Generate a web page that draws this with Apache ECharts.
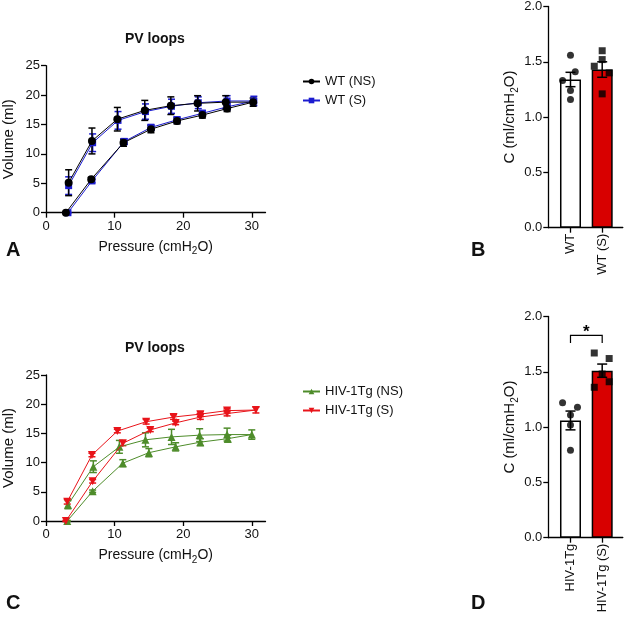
<!DOCTYPE html>
<html><head><meta charset="utf-8">
<script src="https://cdn.jsdelivr.net/npm/echarts@6/dist/echarts.min.js"></script>
<style>html,body{margin:0;padding:0;background:#fff}#c{width:624px;height:621px}</style>
</head><body><div id="c"></div>
<script>
// ---------- Panel A: PV loops, WT ----------
const pressWT_NS = [2.9, 6.6, 11.3, 15.3, 19.1, 22.8, 26.4, 30.2, 26.2, 22.1, 18.2, 14.4, 10.4, 6.7, 3.3];
const volWT_NS   = [0, 5.7, 11.9, 14.2, 15.6, 16.6, 17.7, 18.8, 18.8, 18.6, 18.2, 17.4, 15.9, 12.2, 5.1];
const errWT_NS   = [0, 0.3, 0.6, 0.6, 0.5, 0.5, 0.5, 0.7, 1.1, 1.3, 1.5, 1.7, 2.0, 2.2, 2.2];
const pressWT_S  = [3.2, 6.7, 11.4, 15.3, 19.1, 22.8, 26.4, 30.3, 26.4, 22.2, 18.3, 14.5, 10.5, 6.8, 3.3];
const volWT_S    = [0, 5.4, 12.1, 14.5, 15.8, 16.9, 18.0, 19.0, 19.0, 18.7, 18.1, 17.2, 15.7, 11.9, 4.6];
const errWT_S    = [0, 0.3, 0.5, 0.5, 0.5, 0.5, 0.5, 0.8, 0.9, 1.0, 1.2, 1.3, 1.5, 1.5, 1.5];
// ---------- Panel C: PV loops, HIV-1Tg ----------
const pressTg_NS = [3.1, 6.8, 11.2, 15.0, 18.9, 22.5, 26.5, 30.0, 26.4, 22.4, 18.3, 14.5, 10.7, 6.9, 3.2];
const volTg_NS   = [0, 5.1, 9.9, 11.7, 12.7, 13.5, 14.1, 14.8, 14.8, 14.7, 14.4, 13.9, 12.7, 9.3, 2.8];
const errTg_NS   = [0.1, 0.2, 0.6, 0.7, 0.7, 0.6, 0.6, 0.8, 1.1, 1.1, 1.3, 1.2, 1.1, 1.0, 0.7];
const pressTg_S  = [2.9, 6.8, 11.2, 15.2, 18.9, 22.5, 26.4, 30.6, 26.4, 22.5, 18.6, 14.6, 10.4, 6.7, 3.1];
const volTg_S    = [0, 6.8, 13.3, 15.6, 16.8, 17.8, 18.4, 19.0, 18.9, 18.3, 17.8, 17.0, 15.4, 11.3, 3.3];
const errTg_S    = [0.1, 0.3, 0.4, 0.3, 0.3, 0.4, 0.4, 0.5, 0.4, 0.4, 0.4, 0.4, 0.3, 0.3, 0.4];
const pvXTicks = [0, 10, 20, 30];
const pvYTicks = [0, 5, 10, 15, 20, 25];
// ---------- Panel B: compliance WT ----------
const catsB = ['WT', 'WT (S)'];
const meanB = [1.34, 1.43];
const semB  = [0.065, 0.07];
const ptsB_WT  = [1.56, 1.41, 1.33, 1.24, 1.16];
const jitB_WT  = [0, 0.15, -0.25, 0, 0];
const ptsB_S   = [1.60, 1.52, 1.46, 1.40, 1.21];
const jitB_S   = [0, 0, -0.25, 0.22, 0];
// ---------- Panel D: compliance HIV-1Tg ----------
const catsD = ['HIV-1Tg', 'HIV-1Tg (S)'];
const meanD = [1.06, 1.51];
const semD  = [0.085, 0.06];
const ptsD_Tg  = [1.22, 1.18, 1.11, 1.02, 0.79];
const jitD_Tg  = [-0.25, 0.22, 0, 0, 0];
const ptsD_S   = [1.67, 1.62, 1.48, 1.41, 1.36];
const jitD_S   = [-0.25, 0.22, 0, 0.22, -0.25];
const sigD = { from: 0, to: 1, y: 1.83, drop: 0.07, label: '*' };
const barYTicks = [0, 0.5, 1.0, 1.5, 2.0];

const FONT = 'Liberation Sans, Arial, sans-serif';
const BLACK = '#000000', BLUE = '#1c1cd0', RED = '#e8141a', GREEN = '#4e8c2a', BARRED = '#d80000';

const chart = echarts.init(document.getElementById('c'), null, { renderer: 'canvas' });

function zip(xs, ys) { return xs.map((x, i) => [x, ys[i]]); }
function errData(xs, ys, es) { return xs.map((x, i) => [x, ys[i] - es[i], ys[i] + es[i]]); }

function errSeries(name, idx, data, color, cap, lw) {
  return {
    type: 'custom', name: name, xAxisIndex: idx, yAxisIndex: idx, silent: true,
    encode: { x: 0, y: [1, 2] }, data: data, z: 3,
    renderItem: function (params, api) {
      const x = api.value(0), lo = api.value(1), hi = api.value(2);
      const a = api.coord([x, lo]), b = api.coord([x, hi]);
      const st = { stroke: color, lineWidth: lw };
      return { type: 'group', children: [
        { type: 'line', shape: { x1: a[0], y1: a[1], x2: b[0], y2: b[1] }, style: st },
        { type: 'line', shape: { x1: a[0] - cap, y1: a[1], x2: a[0] + cap, y2: a[1] }, style: st },
        { type: 'line', shape: { x1: b[0] - cap, y1: b[1], x2: b[0] + cap, y2: b[1] }, style: st }
      ]};
    }
  };
}

function pvLine(name, idx, xs, ys, color, symbol, size, z) {
  return {
    type: 'line', name: name, xAxisIndex: idx, yAxisIndex: idx, data: zip(xs, ys),
    symbol: symbol, symbolSize: size, showSymbol: true, z: z,
    lineStyle: { color: color, width: 1 }, itemStyle: { color: color, borderWidth: 0 },
    emphasis: { disabled: true }, animation: false
  };
}

const axisLineStyle = { color: '#000', width: 1.3 };
const tickLabel = { color: '#111', fontSize: 13, fontFamily: FONT };
const subRich = {
  sub: { fontSize: 10, fontFamily: FONT, color: '#111', verticalAlign: 'bottom', lineHeight: 11, padding: [0, 0, -3, 0] }
};

function pvXAxis(idx) {
  return {
    type: 'value', gridIndex: idx, min: 0, max: 32,
    axisLine: { show: true, lineStyle: axisLineStyle, onZero: false },
    axisTick: { show: true, length: 5, lineStyle: axisLineStyle, customValues: pvXTicks },
    axisLabel: Object.assign({ margin: 7, customValues: pvXTicks }, tickLabel),
    splitLine: { show: false },
    name: 'Pressure (cmH{sub|2}O)', nameLocation: 'middle', nameGap: 27,
    nameTextStyle: { color: '#111', fontSize: 14, fontFamily: FONT, rich: subRich }
  };
}
function pvYAxis(idx) {
  return {
    type: 'value', gridIndex: idx, min: 0, max: 25, interval: 5,
    axisLine: { show: true, lineStyle: axisLineStyle, onZero: false },
    axisTick: { show: true, length: 5, lineStyle: axisLineStyle },
    axisLabel: Object.assign({ margin: 6 }, tickLabel),
    splitLine: { show: false },
    name: 'Volume (ml)', nameLocation: 'middle', nameGap: 30, nameRotate: 90,
    nameTextStyle: { color: '#111', fontSize: 15, fontFamily: FONT }
  };
}
function barXAxis(idx, cats) {
  return {
    type: 'value', gridIndex: idx, min: -0.7, max: 1.65,
    axisLine: { show: true, lineStyle: axisLineStyle, onZero: false },
    axisTick: { show: true, length: 5, lineStyle: axisLineStyle, customValues: [0, 1] },
    axisLabel: Object.assign({ margin: 6, rotate: 90, customValues: [0, 1],
      formatter: v => cats[Math.round(v)] }, tickLabel),
    splitLine: { show: false }
  };
}
function barYAxis(idx) {
  return {
    type: 'value', gridIndex: idx, min: 0, max: 2, interval: 0.5,
    axisLine: { show: true, lineStyle: axisLineStyle, onZero: false },
    axisTick: { show: true, length: 5, lineStyle: axisLineStyle },
    axisLabel: Object.assign({ margin: 6, formatter: v => v.toFixed(1) }, tickLabel),
    splitLine: { show: false },
    name: 'C (ml/cmH{sub|2}O)', nameLocation: 'middle', nameGap: 27, nameRotate: 90,
    nameTextStyle: { color: '#111', fontSize: 15, fontFamily: FONT, rich: subRich }
  };
}

function barSeries(idx, means) {
  return {
    type: 'bar', xAxisIndex: idx, yAxisIndex: idx, barWidth: 21, z: 2, silent: true,
    data: means.map((m, i) => ({ value: [i, m], itemStyle: { color: i === 0 ? '#ffffff' : BARRED, borderColor: '#000', borderWidth: 1.5 } }))
  };
}
function ptsSeries(idx, cat, vals, jit, symbol) {
  return {
    type: 'scatter', xAxisIndex: idx, yAxisIndex: idx, symbol: symbol, symbolSize: 7, z: 4, silent: true,
    itemStyle: { color: '#000' },
    data: vals.map((v, i) => [cat + jit[i], v])
  };
}
function sigSeries(idx, s) {
  return {
    type: 'custom', xAxisIndex: idx, yAxisIndex: idx, silent: true, z: 5,
    data: [[s.from, s.to, s.y, s.y - s.drop]],
    renderItem: function (params, api) {
      const p1 = api.coord([api.value(0), api.value(3)]);
      const p2 = api.coord([api.value(0), api.value(2)]);
      const p3 = api.coord([api.value(1), api.value(2)]);
      const p4 = api.coord([api.value(1), api.value(3)]);
      return { type: 'group', children: [
        { type: 'polyline', shape: { points: [p1, p2, p3, p4] }, style: { stroke: '#000', lineWidth: 1.2, fill: null } },
        { type: 'text', x: (p2[0] + p3[0]) / 2, y: p2[1] + 6,
          style: { text: s.label, font: 'bold 17px ' + FONT, fill: '#000', align: 'center', verticalAlign: 'bottom' } }
      ]};
    }
  };
}

const option = {
  backgroundColor: '#ffffff',
  animation: false,
  textStyle: { fontFamily: FONT },
  grid: [
    { left: 45.7, top: 65.7, width: 219.8, height: 147, containLabel: false },
    { left: 548.3, top: 6.5, width: 74.5, height: 221.2, containLabel: false },
    { left: 45.7, top: 375, width: 219.8, height: 146, containLabel: false },
    { left: 548.3, top: 316.5, width: 74.5, height: 221.2, containLabel: false }
  ],
  xAxis: [pvXAxis(0), barXAxis(1, catsB), pvXAxis(2), barXAxis(3, catsD)],
  yAxis: [pvYAxis(0), barYAxis(1), pvYAxis(2), barYAxis(3)],
  legend: [
    { data: ['WT (NS)', 'WT (S)'], left: 297, top: 70, orient: 'vertical', itemWidth: 17, itemHeight: 7, itemGap: 6,
      textStyle: { fontSize: 13, fontFamily: FONT, color: '#111' }, selectedMode: false },
    { data: ['HIV-1Tg (NS)', 'HIV-1Tg (S)'], left: 297, top: 380, orient: 'vertical', itemWidth: 17, itemHeight: 7, itemGap: 6,
      textStyle: { fontSize: 13, fontFamily: FONT, color: '#111' }, selectedMode: false }
  ],
  graphic: [
    { type: 'text', left: 125, top: 32, style: { text: 'PV loops', font: 'bold 14px ' + FONT, fill: '#111' } },
    { type: 'text', left: 125, top: 341, style: { text: 'PV loops', font: 'bold 14px ' + FONT, fill: '#111' } },
    { type: 'text', left: 6, top: 240, style: { text: 'A', font: 'bold 20px ' + FONT, fill: '#111' } },
    { type: 'text', left: 471, top: 240, style: { text: 'B', font: 'bold 20px ' + FONT, fill: '#111' } },
    { type: 'text', left: 6, top: 593, style: { text: 'C', font: 'bold 20px ' + FONT, fill: '#111' } },
    { type: 'text', left: 471, top: 593, style: { text: 'D', font: 'bold 20px ' + FONT, fill: '#111' } }
  ],
  series: [
    errSeries('eWTS', 0, errData(pressWT_S, volWT_S, errWT_S), BLUE, 3.5, 1.5),
    pvLine('WT (S)', 0, pressWT_S, volWT_S, BLUE, 'rect', 7, 4),
    errSeries('eWTNS', 0, errData(pressWT_NS, volWT_NS, errWT_NS), BLACK, 3.5, 1.5),
    pvLine('WT (NS)', 0, pressWT_NS, volWT_NS, BLACK, 'circle', 8, 5),

    errSeries('eTgNS', 2, errData(pressTg_NS, volTg_NS, errTg_NS), GREEN, 3.5, 1.5),
    pvLine('HIV-1Tg (NS)', 2, pressTg_NS, volTg_NS, GREEN, 'triangle', 8, 4),
    errSeries('eTgS', 2, errData(pressTg_S, volTg_S, errTg_S), RED, 3.5, 1.5),
    pvLine('HIV-1Tg (S)', 2, pressTg_S, volTg_S, RED, 'path://M0,0 L10,0 L5,9 Z', 8, 5),

    barSeries(1, meanB),
    errSeries('eB', 1, meanB.map((m, i) => [i, m - semB[i], m + semB[i]]), '#000', 5, 1.5),
    ptsSeries(1, 0, ptsB_WT, jitB_WT, 'circle'),
    ptsSeries(1, 1, ptsB_S, jitB_S, 'rect'),

    barSeries(3, meanD),
    errSeries('eD', 3, meanD.map((m, i) => [i, m - semD[i], m + semD[i]]), '#000', 5, 1.5),
    ptsSeries(3, 0, ptsD_Tg, jitD_Tg, 'circle'),
    ptsSeries(3, 1, ptsD_S, jitD_S, 'rect'),
    sigSeries(3, sigD)
  ]
};
chart.setOption(option);
</script>
</body></html>
